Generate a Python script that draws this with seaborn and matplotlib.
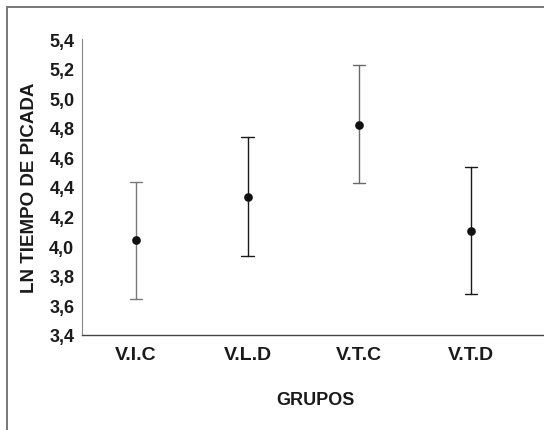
import matplotlib
matplotlib.use("Agg")
import matplotlib.pyplot as plt
import seaborn as sns
import pandas as pd
from matplotlib.patches import Rectangle

categories = ["V.I.C", "V.L.D", "V.T.C", "V.T.D"]
means = [4.04, 4.335, 4.817, 4.10]
lower = [3.64, 3.936, 4.425, 3.675]
upper = [4.437, 4.736, 5.224, 4.537]
yticks = [3.4, 3.6, 3.8, 4.0, 4.2, 4.4, 4.6, 4.8, 5.0, 5.2, 5.4]
ytick_labels = ["3,4", "3,6", "3,8", "4,0", "4,2", "4,4", "4,6", "4,8", "5,0", "5,2", "5,4"]
err_colors = ["#7a7a7a", "#1a1a1a", "#6a6a6a", "#1a1a1a"]

rows = []
for c, lo, m, hi in zip(categories, lower, means, upper):
    for v in (lo, m, hi):
        rows.append({"grupo": c, "valor": v})
df = pd.DataFrame(rows)

sns.set_theme(style="white")
plt.rcParams["font.family"] = ["Liberation Sans", "DejaVu Sans"]

fig = plt.figure(figsize=(5.44, 4.31), dpi=100)
ax = fig.add_axes([82 / 544, 1 - 336 / 431, 1 - 82 / 544 + 0.01, (336 - 40) / 431])

# error bars (range from lower to upper, median = mean value)
sns.pointplot(data=df, x="grupo", y="valor", hue="grupo", order=categories,
              hue_order=categories, palette=err_colors, estimator="median",
              errorbar=("pi", 100), capsize=0.11, linestyle="none",
              markers="o", markersize=0, err_kws={"linewidth": 1.0},
              legend=False, ax=ax)
# mean markers
sns.pointplot(data=df, x="grupo", y="valor", order=categories,
              estimator="median", errorbar=None, linestyle="none",
              color="#111111", markers="o", markersize=4.2, ax=ax)

ax.set_xlim(-0.48, 3.70)
ax.set_ylim(3.4, 5.4)
ax.set_yticks(yticks)
ax.set_yticklabels(ytick_labels)
ax.tick_params(axis="y", labelsize=13, length=2.5, width=0.6, color="#666666",
               direction="out", pad=3)
ax.tick_params(axis="x", labelsize=14, length=3, width=0.6, color="#444444",
               direction="in", pad=8)
for lab in ax.get_yticklabels() + ax.get_xticklabels():
    lab.set_fontweight("bold")
    lab.set_color("#1a1a1a")

ax.set_xlabel("GRUPOS", fontsize=13, fontweight="bold", color="#1a1a1a", labelpad=20)
ax.set_ylabel("LN TIEMPO DE PICADA", fontsize=13.5, fontweight="bold", color="#1a1a1a", labelpad=8)

for s in ["top", "right"]:
    ax.spines[s].set_visible(False)
ax.spines["left"].set_color("#888888")
ax.spines["left"].set_linewidth(0.8)
ax.spines["bottom"].set_color("#444444")
ax.spines["bottom"].set_linewidth(1.0)
ax.patch.set_alpha(0)

# outer frame
fig.add_artist(Rectangle((6.5 / 544, -0.1), 1.2, 1.1 - 7.5 / 431,
                         transform=fig.transFigure, fill=False,
                         edgecolor="#777777", linewidth=1.4))

fig.savefig("out.png", dpi=100)
